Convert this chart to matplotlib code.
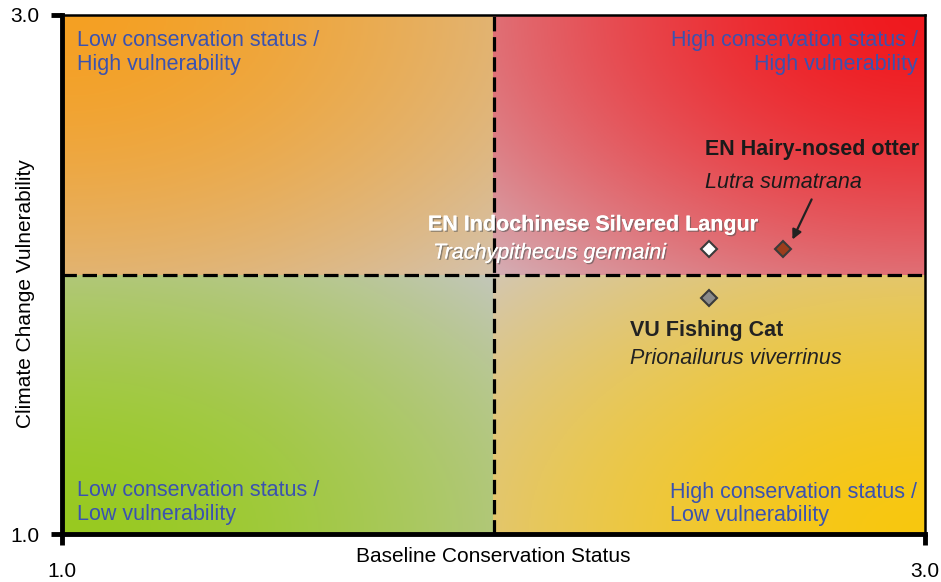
import numpy as np
import matplotlib
matplotlib.use("Agg")
import matplotlib.pyplot as plt
import matplotlib.patheffects as pe

plt.rcParams['font.family'] = ['Liberation Sans', 'DejaVu Sans']

# species positions (baseline status, climate vulnerability)
species = ["EN Indochinese Silvered Langur", "EN Hairy-nosed otter", "VU Fishing Cat"]
latin = ["Trachypithecus germaini", "Lutra sumatrana", "Prionailurus viverrinus"]
status = [2.5, 2.67, 2.5]
vulnerability = [2.1, 2.1, 1.91]
marker_colors = ["#ffffff", "#9c3d1c", "#8a8a8a"]

quadrant_labels = [
    "Low conservation status /\nHigh vulnerability",
    "High conservation status /\nHigh vulnerability",
    "Low conservation status /\nLow vulnerability",
    "High conservation status /\nLow vulnerability",
]

# quadrant fills: outer corner colour -> colour at the chart centre
corner_colors = {
    (0, 1): (245, 160, 35),   # top-left, orange
    (1, 1): (240, 25, 30),    # top-right, red
    (0, 0): (152, 202, 32),   # bottom-left, green
    (1, 0): (248, 200, 15),   # bottom-right, yellow
}
center_colors = {
    (0, 1): (212, 194, 172),
    (1, 1): (212, 175, 182),
    (0, 0): (195, 198, 186),
    (1, 0): (212, 198, 176),
}


def quadrant_image(n=600):
    xs = np.linspace(1, 3, n)
    X, Y = np.meshgrid(xs, xs)
    img = np.zeros((n, n, 3))
    for (qx, qy), c0 in corner_colors.items():
        c1 = np.array(center_colors[(qx, qy)]) / 255.0
        c0 = np.array(c0) / 255.0
        cx = 3.0 if qx else 1.0
        cy = 3.0 if qy else 1.0
        mask = ((X > 2) == bool(qx)) & ((Y > 2) == bool(qy))
        d = np.sqrt((X - cx) ** 2 + (Y - cy) ** 2) / np.sqrt(2)
        f = np.clip(d, 0, 1) ** 1.6
        col = c0[None, None, :] * (1 - f[..., None]) + c1[None, None, :] * f[..., None]
        img[mask] = col[mask]
    return img


fig = plt.figure(figsize=(9.41, 5.82), dpi=100)
ax = fig.add_axes([62 / 941, 48 / 582, 863 / 941, 519 / 582])

ax.imshow(quadrant_image(), extent=[1, 3, 1, 3], origin='lower',
          aspect='auto', interpolation='nearest', zorder=0)

ax.axvline(2.0, color='black', lw=2.3, ls=(0, (4.5, 1.8)), zorder=2)
ax.axhline(2.0, color='black', lw=2.3, ls=(0, (4.5, 1.8)), zorder=2)

qcol = '#3a52b0'
ax.text(1.035, 2.855, quadrant_labels[0], color=qcol, fontsize=15.5,
        ha='left', va='center', linespacing=1.15, zorder=3)
ax.text(2.984, 2.855, quadrant_labels[1], color=qcol, fontsize=15.5,
        ha='right', va='center', multialignment='right', linespacing=1.15, zorder=3)
ax.text(1.035, 1.121, quadrant_labels[2], color=qcol, fontsize=15.5,
        ha='left', va='center', linespacing=1.15, zorder=3)
ax.text(2.409, 1.116, quadrant_labels[3], color=qcol, fontsize=15.5,
        ha='left', va='center', linespacing=1.15, zorder=3)

for x, y, c in zip(status, vulnerability, marker_colors):
    ax.plot(x, y, marker='D', ms=8, mfc=c, mec='#3a3a3a', mew=1.5, zorder=5)

shadow = [pe.withSimplePatchShadow(offset=(1, -1), shadow_rgbFace='#555555', alpha=0.6), pe.Normal()]
ax.text(1.848, 2.191, species[0], color='white', fontsize=15.5, fontweight='bold',
        ha='left', va='center', zorder=4, path_effects=shadow)
ax.text(1.860, 2.083, latin[0], color='white', fontsize=15.5, fontstyle='italic',
        ha='left', va='center', zorder=4, path_effects=shadow)
ax.text(2.490, 2.480, species[1], color='#1a1a1a', fontsize=15.5, fontweight='bold',
        ha='left', va='center', zorder=4)
ax.text(2.490, 2.356, latin[1], color='#1a1a1a', fontsize=15.5, fontstyle='italic',
        ha='left', va='center', zorder=4)
ax.text(2.316, 1.786, species[2], color='#222222', fontsize=15.5, fontweight='bold',
        ha='left', va='center', zorder=4)
ax.text(2.316, 1.678, latin[2], color='#222222', fontsize=15.5, fontstyle='italic',
        ha='left', va='center', zorder=4)

ax.annotate('', xy=(status[1] + 0.02, vulnerability[1] + 0.025), xytext=(2.740, 2.299),
            arrowprops=dict(arrowstyle='-|>', color='#222222', lw=1.6,
                            mutation_scale=14), zorder=6)

ax.set_xlim(1, 3)
ax.set_ylim(1, 3)
ax.set_xticks([1.0, 3.0])
ax.set_yticks([1.0, 3.0])
ax.set_xticklabels(['1.0', '3.0'])
ax.set_yticklabels(['1.0', '3.0'])
ax.tick_params(axis='both', direction='out', length=8, width=3.5, labelsize=15)
ax.tick_params(axis='x', pad=12)
ax.tick_params(axis='y', pad=8)

for s in ['left', 'bottom']:
    ax.spines[s].set_linewidth(3.5)
for s in ['top', 'right']:
    ax.spines[s].set_linewidth(1.8)

ax.set_xlabel('Baseline Conservation Status', fontsize=15)
ax.xaxis.set_label_coords(0.5, -0.025)
ax.set_ylabel('Climate Change Vulnerability', fontsize=15)
ax.yaxis.set_label_coords(-0.031, 0.464)

fig.savefig('out.png', dpi=100)
